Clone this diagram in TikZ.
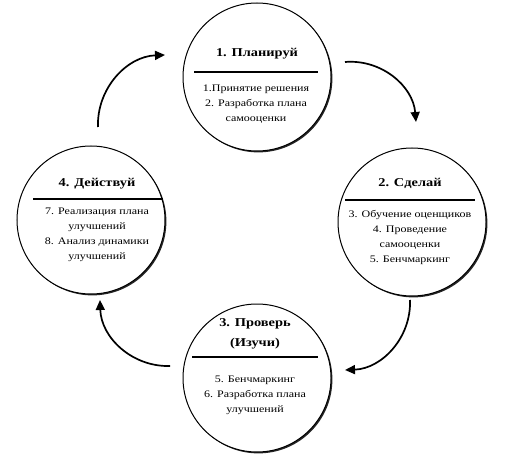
\documentclass[tikz,border=0pt]{standalone}
\usepackage{fontspec}
\setmainfont{Liberation Serif}[FakeStretch=1.2]
\usetikzlibrary{shadows,arrows.meta}

\begin{document}
\begin{tikzpicture}[x=1bp,y=-1bp,inner sep=0pt,outer sep=0pt,
  stage/.style={circle,draw=black,line width=1bp,minimum size=148bp,fill=white,
    drop shadow={shadow xshift=1.4bp,shadow yshift=-1.4bp,fill=black,opacity=0.85}},
  stagetitle/.style={align=center,font=\fontsize{12bp}{20bp}\selectfont\bfseries},
  stageitems/.style={align=center,font=\fontsize{10bp}{15bp}\selectfont},
  divider/.style={line width=1.3bp},
  cyc/.style={-{Triangle[length=10bp,width=9bp]},line width=1.7bp}]
  \useasboundingbox (0,0) rectangle (511,468);
  % stages
  \node[stage] (plan) at (257,77) {};
  \node[stage] (do) at (412,222) {};
  \node[stage] (check) at (257,378) {};
  \node[stage] (act) at (91,220) {};
  % plan
  \node[stagetitle] (plantitle) at ([shift={(0,-23)}]plan.center) {1. Планируй};
  \draw[divider] ([shift={(-63,-5)}]plan.center) -- ([shift={(61,-5)}]plan.center);
  \node[stageitems] (planitems) at ([shift={(-1,27)}]plan.center) {1.Принятие решения\\2. Разработка плана\\самооценки};
  % do
  \node[stagetitle] (dotitle) at ([shift={(-2,-39)}]do.center) {2. Сделай};
  \draw[divider] ([shift={(-67,-22)}]do.center) -- ([shift={(63,-22)}]do.center);
  \node[stageitems] (doitems) at ([shift={(-2,15)}]do.center) {3. Обучение оценщиков\\4. Проведение\\самооценки\\5. Бенчмаркинг};
  % check
  \node[stagetitle] (checktitle) at ([shift={(-2,-44)}]check.center) {3. Проверь\\(Изучи)};
  \draw[divider] ([shift={(-65,-21)}]check.center) -- ([shift={(61,-21)}]check.center);
  \node[stageitems] (checkitems) at ([shift={(-2,17)}]check.center) {5. Бенчмаркинг\\6. Разработка плана\\улучшений};
  % act
  \node[stagetitle] (acttitle) at ([shift={(6,-36)}]act.center) {4. Действуй};
  \draw[divider] ([shift={(-58,-21)}]act.center) -- ([shift={(72,-21)}]act.center);
  \node[stageitems] (actitems) at ([shift={(6,15)}]act.center) {7. Реализация плана\\улучшений\\8. Анализ динамики\\улучшений};
  % cycle arrows
  \coordinate (plan out) at ([shift={(88,-15)}]plan.center);
  \coordinate (do in) at ([shift={(4,-100)}]do.center);
  \coordinate (do out) at ([shift={(-2,78)}]do.center);
  \coordinate (check in) at ([shift={(88,-8)}]check.center);
  \coordinate (check out) at ([shift={(-87,-12)}]check.center);
  \coordinate (act in) at ([shift={(9,80)}]act.center);
  \coordinate (act out) at ([shift={(7,-93)}]act.center);
  \coordinate (plan in) at ([shift={(-92,-22)}]plan.center);
  \draw[cyc] (plan out) to[bend left=45] (do in);
  \draw[cyc] (do out) to[bend left=45] (check in);
  \draw[cyc] (check out) to[bend left=45] (act in);
  \draw[cyc] (act out) to[bend left=45] (plan in);
\end{tikzpicture}
\end{document}
